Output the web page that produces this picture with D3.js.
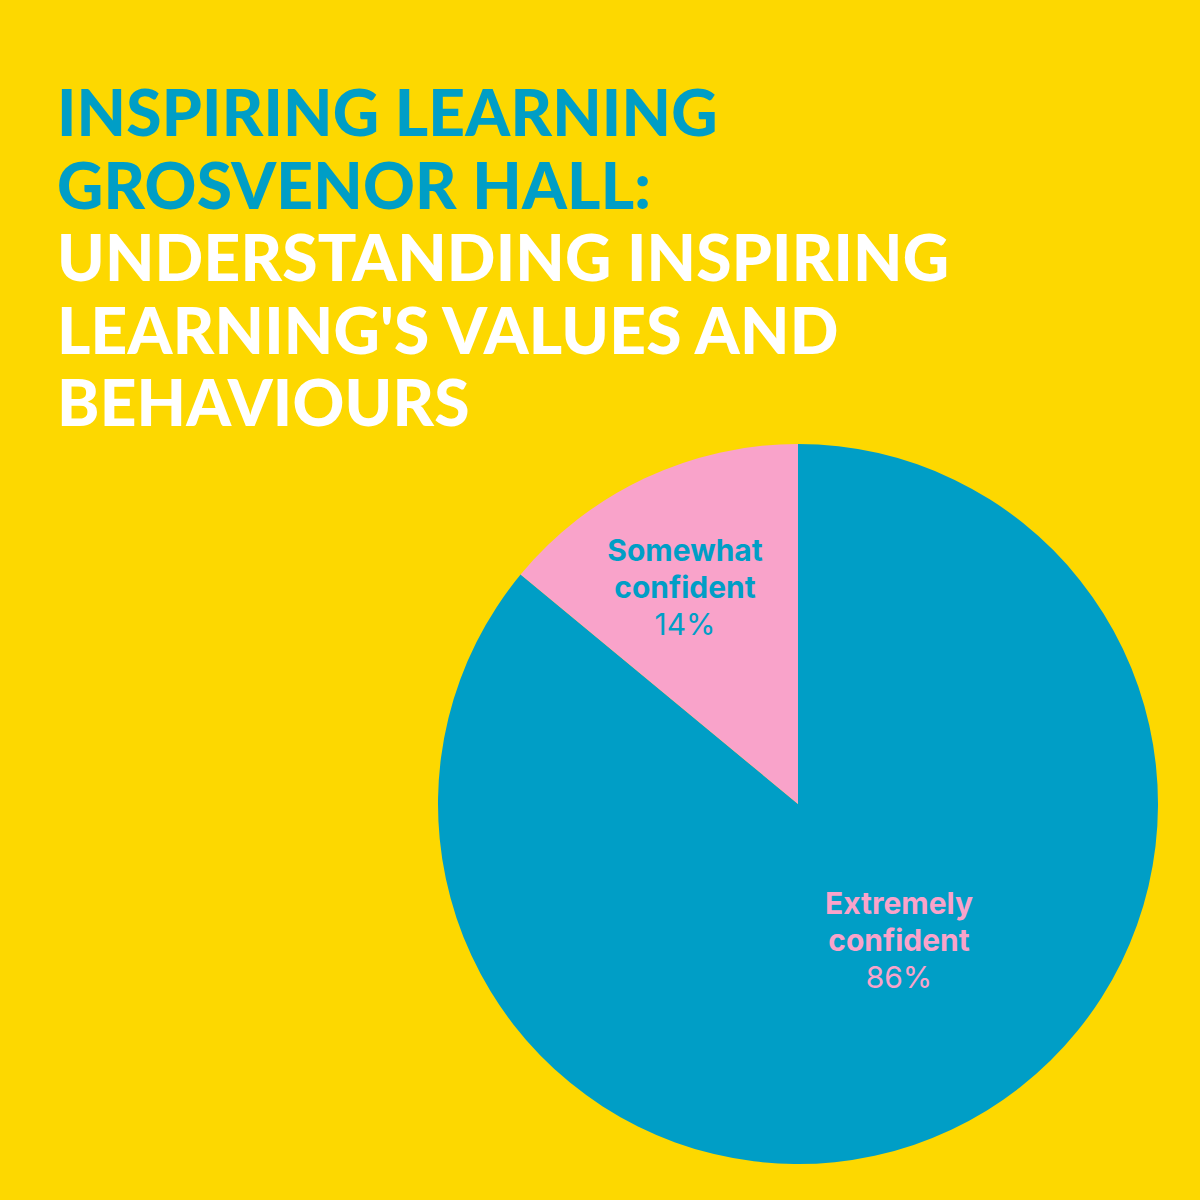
<!DOCTYPE html>
<html lang="en">
<head>
    <meta charset="utf-8">
    <title>Inspiring Learning - Grosvenor Hall</title>
    <script type="text/javascript" src="https://d3js.org/d3.v7.min.js"></script>
    <style>
        html, body {
            margin: 0;
            padding: 0;
            background: #FDD800;
        }
        svg text {
            font-family: "Lato", "Inter", sans-serif;
        }
        svg g.label text {
            font-family: "Inter", "Lato", sans-serif;
        }
    </style>
</head>
<body>
    <div id="chart"></div>
    <script type="text/javascript">
        // data
        const titleBlue = ["INSPIRING LEARNING", "GROSVENOR HALL:"];
        const titleWhite = ["UNDERSTANDING INSPIRING", "LEARNING'S VALUES AND", "BEHAVIOURS"];
        const categories = ["Extremely confident", "Somewhat confident"];
        const labelLines = [["Extremely", "confident"], ["Somewhat", "confident"]];
        const values = [86, 14];

        const width = 1200;
        const height = 1200;
        const yellow = "#FDD800";
        const blue = "#009EC6";
        const pink = "#F9A3CA";

        const cx = 798;
        const cy = 804;
        const radius = 360;

        const svg = d3.select("#chart")
            .append("svg")
            .attr("width", width)
            .attr("height", height)
            .attr("viewBox", [0, 0, width, height]);

        svg.append("rect")
            .attr("width", width)
            .attr("height", height)
            .attr("fill", yellow);

        // title
        const titleLines = titleBlue.map(t => ({text: t, color: blue}))
            .concat(titleWhite.map(t => ({text: t, color: "#ffffff"})));

        svg.append("g")
            .attr("class", "title")
            .selectAll("text")
            .data(titleLines)
            .join("text")
                .attr("x", 57)
                .attr("y", (d, i) => 136 + i * 72.5)
                .attr("fill", d => d.color)
                .attr("font-size", 64)
                .attr("font-weight", 900)
                .attr("letter-spacing", 0.2)
                .text(d => d.text);

        // pie
        const color = d3.scaleOrdinal()
            .domain(categories)
            .range([blue, pink]);

        const pie = d3.pie()
            .value(d => d.value)
            .sort(null);

        const dataset = categories.map((c, i) => ({name: c, value: values[i], lines: labelLines[i]}));
        const arcs = pie(dataset);

        const arc = d3.arc()
            .innerRadius(0)
            .outerRadius(radius);

        const g = svg.append("g")
            .attr("transform", `translate(${cx},${cy})`);

        g.selectAll("path")
            .data(arcs)
            .join("path")
                .attr("d", arc)
                .attr("fill", d => color(d.data.name));

        // label placement: radius fraction and angle nudge per slice
        const labelPos = [{k: 0.47, da: -0.2}, {k: 0.68, da: -0.04}];

        const labels = g.selectAll("g.label")
            .data(arcs)
            .join("g")
                .attr("class", "label")
                .attr("transform", (d, i) => {
                    const a = (d.startAngle + d.endAngle) / 2 + labelPos[i].da;
                    const r = radius * labelPos[i].k;
                    return `translate(${r * Math.sin(a)},${-r * Math.cos(a)})`;
                });

        labels.each(function(d, i) {
            const sel = d3.select(this);
            const fill = i === 0 ? pink : blue;
            const lines = d.data.lines.concat([d.data.value + "%"]);
            sel.selectAll("text")
                .data(lines)
                .join("text")
                    .attr("text-anchor", "middle")
                    .attr("y", (t, j) => (j - 1) * 37 + 11)
                    .attr("fill", fill)
                    .attr("font-size", 30)
                    .attr("font-weight", (t, j) => j < 2 ? 700 : 400)
                    .text(t => t);
        });
    </script>
</body>
</html>
